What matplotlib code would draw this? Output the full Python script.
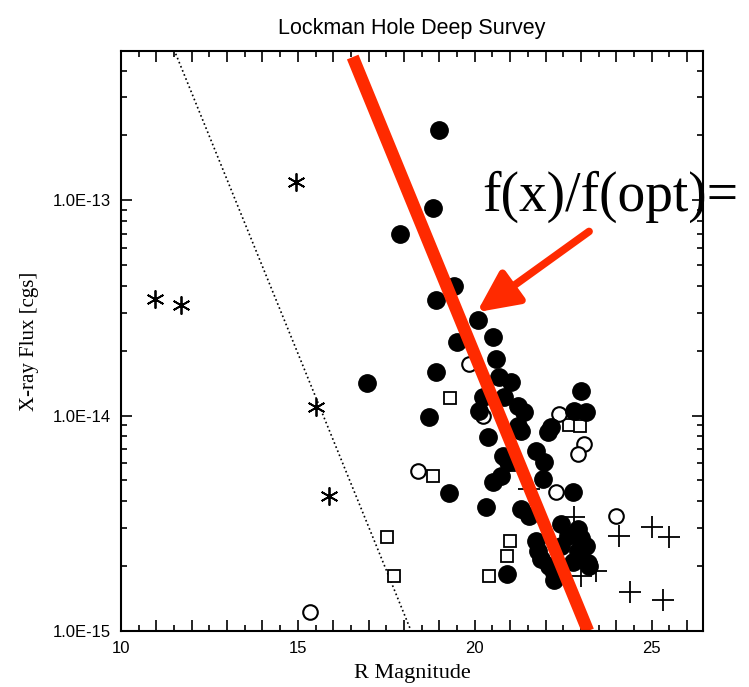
import numpy as np
import matplotlib
matplotlib.use('Agg')
import matplotlib.pyplot as plt
from matplotlib.ticker import MultipleLocator, LogLocator, FixedFormatter, FixedLocator

# ---------------- data ----------------
# filled circles
filled_mag = [18.98, 18.81, 17.90, 19.40, 18.90, 16.94, 20.08, 20.51, 19.49, 20.59,
              18.90, 20.68, 21.02, 20.23, 20.82, 20.11, 21.22, 21.39, 18.70, 23.00,
              22.80, 23.14, 21.22, 21.30, 22.15, 22.06, 20.37, 21.73, 21.96, 20.79,
              20.93, 20.74, 20.51, 21.93, 22.78, 19.26, 20.31, 21.30, 21.53, 22.44,
              22.92, 22.63, 23.00, 21.73, 23.14, 21.79, 22.44, 22.92, 23.20, 22.78,
              21.87, 22.10, 22.24, 20.91, 23.23]
filled_flux = [2.12e-13, 9.2e-14, 7.0e-14, 4.0e-14, 3.43e-14, 1.42e-14, 2.77e-14, 2.31e-14, 2.19e-14, 1.83e-14,
               1.59e-14, 1.51e-14, 1.43e-14, 1.22e-14, 1.22e-14, 1.05e-14, 1.11e-14, 1.04e-14, 9.86e-15, 1.30e-14,
               1.05e-14, 1.04e-14, 8.96e-15, 8.5e-15, 8.86e-15, 8.4e-15, 7.97e-15, 6.86e-15, 6.1e-15, 6.5e-15,
               6.1e-15, 5.25e-15, 4.92e-15, 5.08e-15, 4.43e-15, 4.38e-15, 3.77e-15, 3.70e-15, 3.43e-15, 3.15e-15,
               2.99e-15, 2.77e-15, 2.69e-15, 2.63e-15, 2.47e-15, 2.34e-15, 2.47e-15, 2.34e-15, 2.06e-15, 2.1e-15,
               2.17e-15, 2.01e-15, 1.72e-15, 1.83e-15, 2.0e-15]

# open circles
open_mag = [15.33, 19.83, 18.39, 20.23, 22.38, 23.09, 22.92, 22.29, 24.00, 22.21]
open_flux = [1.22e-15, 1.73e-14, 5.55e-15, 9.95e-15, 1.02e-14, 7.4e-15, 6.6e-15, 4.43e-15, 3.43e-15, 1.85e-15]

# open squares
sq_mag = [19.29, 18.81, 17.53, 17.73, 20.99, 20.91, 20.40, 22.66, 22.97, 20.96]
sq_flux = [1.21e-14, 5.26e-15, 2.74e-15, 1.81e-15, 2.63e-15, 2.24e-15, 1.81e-15, 9.06e-15, 8.96e-15, 5.9e-15]

# crosses
plus_mag = [22.80, 21.53, 23.00, 23.43, 24.08, 25.01, 25.50, 24.39, 25.33]
plus_flux = [3.4e-15, 4.57e-15, 1.81e-15, 1.9e-15, 2.77e-15, 3.05e-15, 2.74e-15, 1.52e-15, 1.40e-15]

# asterisks (stars)
star_mag = [10.96, 11.70, 14.96, 15.50, 15.89]
star_flux = [3.47e-14, 3.25e-14, 1.21e-13, 1.10e-14, 4.25e-15]

# dotted line and red line end points
dot_mag = [11.5, 18.2]
dot_flux = [5.0e-13, 1.0e-15]
red_mag = [16.55, 23.2]
red_flux = [4.62e-13, 1.0e-15]

ytick_vals = [1e-15, 1e-14, 1e-13]
ytick_labels = ['1.0E-15', '1.0E-14', '1.0E-13']

RED = '#ff2a00'
SERIF = 'Liberation Serif'
SANS = 'Liberation Sans'

# ---------------- figure ----------------
fig = plt.figure(figsize=(7.49, 6.87), dpi=100)
ax = fig.add_axes([0.1615, 0.0815, 0.7771, 0.8443])
ax.set_yscale('log')
ax.set_xlim(10, 26.45)
ax.set_ylim(1e-15, 4.93e-13)

ax.plot(dot_mag, dot_flux, ':', color='black', lw=1.2)

ax.plot(sq_mag, sq_flux, 's', ms=8, mfc='white', mec='black', mew=1.3, ls='none')
ax.plot(open_mag, open_flux, 'o', ms=10.5, mfc='white', mec='black', mew=1.5, ls='none')
ax.plot(filled_mag, filled_flux, 'o', ms=12.5, color='black', ls='none')
ax.plot(plus_mag, plus_flux, '+', ms=16, color='black', mew=1.3, ls='none')
ax.plot(star_mag, star_flux, marker=(6, 2, 0), ms=13, color='black', mew=1.3, ls='none')

ax.plot(red_mag, red_flux, '-', color=RED, lw=9, solid_capstyle='butt')

# arrow and annotation
ax.annotate('', xy=(20.06, 3.02e-14), xytext=(23.23, 7.16e-14),
            arrowprops=dict(arrowstyle='-|>,head_length=1.25,head_width=0.6',
                            color=RED, lw=5.5, mutation_scale=20, shrinkA=0, shrinkB=0))
ax.text(20.2, 8.9e-14, 'f(x)/f(opt)=', fontsize=40, family=SERIF, va='baseline', ha='left')

# ticks
ax.xaxis.set_major_locator(MultipleLocator(1))
ax.xaxis.set_minor_locator(MultipleLocator(0.5))
ax.xaxis.set_major_formatter(plt.FuncFormatter(lambda v, p: '%d' % v if v % 5 == 0 else ''))
ax.yaxis.set_major_locator(FixedLocator(ytick_vals))
ax.yaxis.set_major_formatter(FixedFormatter(ytick_labels))
ax.yaxis.set_minor_locator(LogLocator(base=10, subs=np.arange(2, 10)))
ax.yaxis.set_minor_formatter(plt.NullFormatter())
ax.tick_params(which='both', direction='in', top=True, right=True, width=1.2, labelsize=12)
ax.tick_params(which='major', length=8, pad=7)
ax.tick_params(which='minor', length=4.5)
for lab in ax.get_xticklabels() + ax.get_yticklabels():
    lab.set_family(SANS)
for s in ax.spines.values():
    s.set_linewidth(1.5)

ax.set_xlabel('R Magnitude', family=SERIF, fontsize=16, labelpad=6)
ax.set_ylabel('X-ray Flux [cgs]', family=SERIF, fontsize=15, labelpad=10)
fig.text(0.55, 0.958, 'Lockman Hole Deep Survey', family=SANS, fontsize=15.5, ha='center', va='center')

fig.savefig('out.png', dpi=100)
